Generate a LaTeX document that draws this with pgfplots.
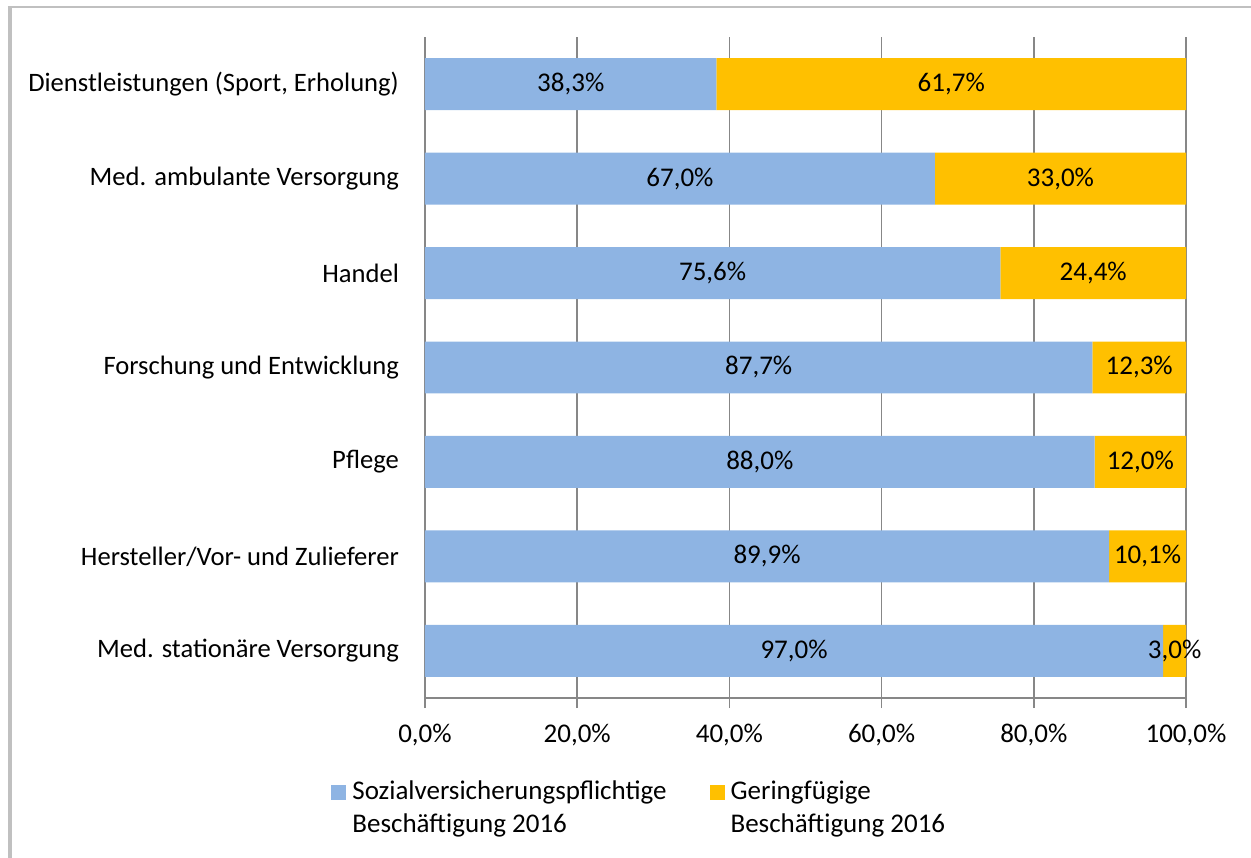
\documentclass[border=0pt]{standalone}
\usepackage{pgfplots}
\usepackage{pgfplotstable}
\pgfplotsset{compat=1.18}
\usepackage{fontspec}
\setmainfont{Carlito}
\definecolor{sblue}{HTML}{8EB4E3}
\definecolor{gorange}{HTML}{FFC000}
\definecolor{gridgray}{HTML}{878787}
\definecolor{framegray}{HTML}{C0C0C0}
\pgfplotstableread{
y a b
0 97.0 3.0
1 89.9 10.1
2 88.0 12.0
3 87.7 12.3
4 75.6 24.4
5 67.0 33.0
6 38.3 61.7
}\data
\begin{document}
\begin{tikzpicture}[font=\fontsize{13.5}{16.5}\selectfont]
\draw[framegray, line width=2pt] (-207.5pt,-80pt) -- (-207.5pt,345.5pt);
\draw[framegray, line width=1pt] (-208.5pt,345.5pt) -- (414pt,345.5pt);
\begin{axis}[
  at={(0,0)}, anchor=south west,
  scale only axis, width=380.5pt, height=330.5pt,
  xbar stacked, bar width=0.55,
  xmin=0, xmax=100, ymin=-0.5, ymax=6.5,
  axis x line*=bottom, axis y line*=left,
  axis line style={gridgray, line width=0.8pt},
  xtick={0,20,...,100},
  xmajorgrids, major grid style={gridgray, line width=0.8pt},
  tick align=outside,
  x tick style={gridgray, line width=0.8pt},
  major tick length=5pt,
  xticklabel={\pgfmathprintnumber[fixed,fixed zerofill,precision=1,use comma]{\tick}\%},
  /pgf/number format/assume math mode=true,
  xticklabel style={yshift=-4.5pt},
  ytick={0,...,6},
  yticklabels={Med. stationäre Versorgung, Hersteller/Vor- und Zulieferer, Pflege, Forschung und Entwicklung, Handel, Med. ambulante Versorgung, {Dienstleistungen (Sport, Erholung)}},
  y tick style={draw=none},
  yticklabel style={xshift=-4.5pt, font=\fontsize{13.3}{16}\selectfont},
  extra y ticks={-0.5,0.5,...,6.5},
  extra y tick labels={},
  extra y tick style={grid=none, major tick length=4.5pt, tick style={draw=gridgray, line width=0.8pt}},
  legend columns=2,
  legend cell align=left,
  legend style={at={(axis description cs:-0.1235,-0.1196)}, anchor=north west, draw=none, fill=none, inner sep=0pt,
    nodes={align=left, inner sep=1.5pt},
    /tikz/every odd column/.append style={column sep=1.5pt},
    /tikz/every even column/.append style={column sep=20pt}},
]
\addplot[fill=sblue, draw=none, legend image code/.code={\fill[sblue] (0pt,3.75pt) rectangle (7.5pt,11.25pt);}] table[x=a, y=y]{\data};
\addplot[fill=gorange, draw=none, legend image code/.code={\fill[gorange] (0pt,3.75pt) rectangle (7.5pt,11.25pt);}] table[x=b, y=y]{\data};
\legend{Sozialversicherungspflichtige\\Beschäftigung 2016, Geringfügige\\Beschäftigung 2016}
\end{axis}
\begin{axis}[
  at={(0,0)}, anchor=south west,
  scale only axis, width=380.5pt, height=330.5pt,
  xmin=0, xmax=100, ymin=-0.5, ymax=6.5,
  hide axis,
  /pgf/number format/assume math mode=true,
  nodes near coords={\pgfmathprintnumber[fixed,fixed zerofill,precision=1,use comma,assume math mode=true]{\pgfplotspointmeta}\%},
  every node near coord/.append style={anchor=center, inner sep=0pt},
]
\addplot[draw=none, mark=none, point meta=explicit] table[x expr=\thisrow{a}/2, y=y, meta=a]{\data};
\addplot[draw=none, mark=none, point meta=explicit] table[x expr=\thisrow{a}+\thisrow{b}/2, y=y, meta=b]{\data};
\end{axis}
\pgfresetboundingbox
\useasboundingbox (-212.5pt,-79.5pt) rectangle (413pt,349pt);
\end{tikzpicture}
\end{document}
